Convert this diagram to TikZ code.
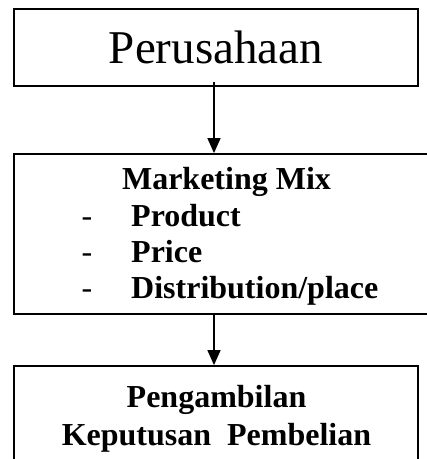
\documentclass[tikz,border=0pt]{standalone}
\usepackage{fontspec}
\setmainfont{Liberation Serif}
\usetikzlibrary{arrows.meta}

\begin{document}
\begin{tikzpicture}[x=1pt,y=-1pt,
  box/.style={draw,line width=1.8pt,inner sep=0pt,anchor=center},
  arr/.style={line width=1.4pt,-{Triangle[length=15pt,width=13pt]}},
  bigtext/.style={font=\fontsize{47}{56}\selectfont},
  boldtext/.style={font=\fontsize{32}{37}\selectfont\bfseries,inner sep=0pt},
  dashtext/.style={font=\fontsize{32}{37}\selectfont,inner sep=0pt}]
% Parameters
\def\colA{87}; \def\colB{131};
\useasboundingbox (0,0) rectangle (427,459);

% Boxes
\node[box,bigtext,minimum width=404pt,minimum height=77pt] (perusahaan) at (216,47.5) {Perusahaan};
\node[box,minimum width=428pt,minimum height=160pt] (mix) at (228,234) {};
\node[box,minimum width=404pt,minimum height=110pt] (keputusan) at (216,421) {};

% Texts in the middle box
\node[boldtext,anchor=base] (mixtitle) at (226.5,189) {Marketing Mix};
\node[dashtext,anchor=base] (dashA) at (\colA,226) {-};
\node[boldtext,anchor=base west] (product) at (\colB,226) {Product};
\node[dashtext,anchor=base] (dashB) at (\colA,262) {-};
\node[boldtext,anchor=base west] (price) at (\colB,262) {Price};
\node[dashtext,anchor=base] (dashC) at (\colA,298) {-};
\node[boldtext,anchor=base west] (place) at (\colB,298) {Distribution/place};

% Texts in the bottom box
\node[boldtext,anchor=base] (pengambilan) at (216.5,407) {Pengambilan};
\node[boldtext,anchor=base] (pembelian) at (216.5,445) {Keputusan\ \ Pembelian};

% Arrows
\draw[arr] ([xshift=-2pt,yshift=5pt]perusahaan.south) -- ([xshift=-2pt]perusahaan.south |- mix.north);
\draw[arr] ([xshift=-2pt]perusahaan.south |- mix.south) -- ([xshift=-2pt]keputusan.north);
\end{tikzpicture}
\end{document}
